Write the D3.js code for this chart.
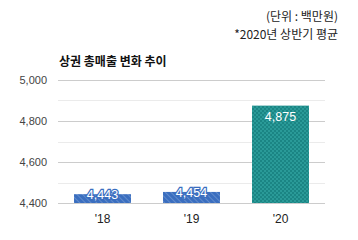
<!DOCTYPE html>
<html>
<head>
<meta charset="utf-8">
<script src="https://cdn.jsdelivr.net/npm/d3@7"></script>
<style>
  body { margin: 0; background: #fff; }
  text { font-family: "Liberation Sans", Arial, "Noto Sans CJK KR", sans-serif; }
  .kr { font-family: "Noto Sans CJK KR", sans-serif; }
</style>
</head>
<body>
<svg width="358" height="240"></svg>
<script>
var years = ["'18", "'19", "'20"];
var sales = [4443, 4454, 4875];
var yTicks = [4400, 4600, 4800, 5000];
var minorTicks = [4500, 4700, 4900];

var margin = { top: 80, right: 33, bottom: 37, left: 58 },
	width = 358 - margin.left - margin.right,
	height = 240 - margin.top - margin.bottom;

var svg = d3.select("svg");

var defs = svg.append("defs");
var hatch = defs.append("pattern")
	.attr("id", "hatch")
	.attr("patternUnits", "userSpaceOnUse")
	.attr("width", 4).attr("height", 4)
	.attr("patternTransform", "rotate(-45)");
hatch.append("rect").attr("width", 4).attr("height", 4).attr("fill", "#3a6ebf");
hatch.append("line").attr("x1", 0).attr("y1", 0).attr("x2", 0).attr("y2", 4)
	.attr("stroke", "#7c9fd6").attr("stroke-width", 1.2);

var check = defs.append("pattern")
	.attr("id", "check")
	.attr("patternUnits", "userSpaceOnUse")
	.attr("width", 4).attr("height", 4);
check.append("rect").attr("width", 4).attr("height", 4).attr("fill", "#1b8584");
check.append("rect").attr("width", 2).attr("height", 2).attr("fill", "#2a9a98");
check.append("rect").attr("x", 2).attr("y", 2).attr("width", 2).attr("height", 2).attr("fill", "#2a9a98");

var g = svg.append("g").attr("transform", "translate(" + margin.left + "," + margin.top + ")");

var xScale = d3.scaleBand()
	.domain(years)
	.range([0, width])
	.paddingInner(0.36)
	.paddingOuter(0.18);

var yScale = d3.scaleLinear()
	.domain([4400, 5000])
	.range([height, 0]);

// gridlines
g.selectAll(".minor").data(minorTicks).enter().append("line")
	.attr("x1", 0).attr("x2", width)
	.attr("y1", function (d) { return Math.round(yScale(d)) + 0.5; })
	.attr("y2", function (d) { return Math.round(yScale(d)) + 0.5; })
	.attr("stroke", "#ebebeb");

g.selectAll(".major").data(yTicks).enter().append("line")
	.attr("x1", 0).attr("x2", width)
	.attr("y1", function (d) { return Math.round(yScale(d)) + 0.5; })
	.attr("y2", function (d) { return Math.round(yScale(d)) + 0.5; })
	.attr("stroke", "#cccccc");

var yAxis = d3.axisLeft(yScale)
	.tickValues(yTicks)
	.tickSize(0)
	.tickPadding(11)
	.tickFormat(d3.format(","));

g.append("g").call(yAxis)
	.call(function (a) { a.select(".domain").remove(); })
	.selectAll("text")
	.style("font-size", "11px")
	.attr("fill", "#444");

var xAxis = d3.axisBottom(xScale).tickSize(0).tickPadding(11);
g.append("g").attr("transform", "translate(0," + height + ")").call(xAxis)
	.call(function (a) { a.select(".domain").remove(); })
	.selectAll("text")
	.style("font-size", "12px")
	.attr("fill", "#222");

// bars
g.selectAll(".bar").data(sales).enter().append("rect")
	.attr("x", function (d, i) { return xScale(years[i]); })
	.attr("width", xScale.bandwidth())
	.attr("y", function (d) { return yScale(d); })
	.attr("height", function (d) { return height - yScale(d); })
	.attr("fill", function (d, i) { return i < 2 ? "url(#hatch)" : "url(#check)"; });

// value labels
g.selectAll(".val").data(sales).enter().append("text")
	.attr("x", function (d, i) { return xScale(years[i]) + xScale.bandwidth() / 2; })
	.attr("y", function (d, i) { return i < 2 ? yScale(d) + 5 : yScale(d) + 15; })
	.attr("text-anchor", "middle")
	.style("font-size", "12.5px")
	.attr("fill", "#fff")
	.attr("stroke", function (d, i) { return i < 2 ? "#3a6ebf" : "none"; })
	.attr("stroke-width", 2.5)
	.attr("paint-order", "stroke")
	.text(function (d) { return d3.format(",")(d); });

// titles
svg.append("text").attr("class", "kr")
	.attr("x", 59).attr("y", 66)
	.style("font-size", "12px").style("font-weight", "bold")
	.attr("fill", "#111")
	.text("상권 총매출 변화 추이");

svg.append("text").attr("class", "kr")
	.attr("x", 338).attr("y", 21)
	.attr("text-anchor", "end")
	.style("font-size", "12px")
	.attr("fill", "#222")
	.text("(단위 : 백만원)");

svg.append("text").attr("class", "kr")
	.attr("x", 338).attr("y", 39)
	.attr("text-anchor", "end")
	.style("font-size", "12px")
	.attr("fill", "#222")
	.text("*2020년 상반기 평균");
</script>
</body>
</html>
